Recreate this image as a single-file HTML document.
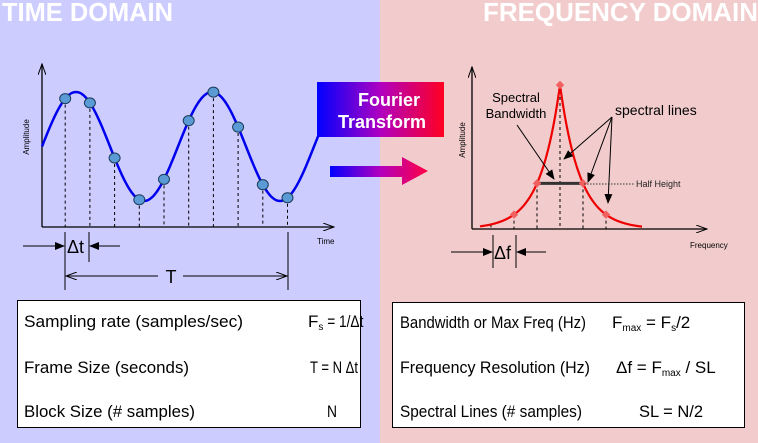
<!DOCTYPE html>
<html><head><meta charset="utf-8"><style>
html,body{margin:0;padding:0;width:758px;height:443px;overflow:hidden;background:#fff}
svg{display:block;font-family:"Liberation Sans",sans-serif}
</style></head><body>
<svg id="s" width="758" height="443" viewBox="0 0 758 443">
<defs>
<linearGradient id="g1" x1="0" x2="1" y1="0" y2="0"><stop offset="0" stop-color="#0000ff"/><stop offset="0.5" stop-color="#b000c0"/><stop offset="1" stop-color="#ff0022"/></linearGradient>
<linearGradient id="g2" x1="0" x2="1" y1="0" y2="0"><stop offset="0" stop-color="#0000ff"/><stop offset="0.5" stop-color="#b000c0"/><stop offset="1" stop-color="#ff0044"/></linearGradient>
<marker id="ah" markerWidth="10" markerHeight="8" refX="9" refY="4" orient="auto" markerUnits="userSpaceOnUse"><path d="M0,0 L10,4 L0,8 z" fill="#000"/></marker>
<marker id="ao" markerWidth="12" markerHeight="8" refX="11" refY="4" orient="auto" markerUnits="userSpaceOnUse"><path d="M0,0 L11,4 L0,8" fill="none" stroke="#000" stroke-width="1"/></marker>
</defs>
<rect x="0" y="0" width="380" height="443" fill="#ccccff"/>
<rect x="380" y="0" width="378" height="443" fill="#f2cccc"/>
<text x="2" y="21" font-size="26" font-weight="bold" fill="#fff" textLength="171" lengthAdjust="spacingAndGlyphs">TIME DOMAIN</text>
<text x="483" y="21" font-size="26" font-weight="bold" fill="#fff" textLength="275" lengthAdjust="spacingAndGlyphs">FREQUENCY DOMAIN</text>

<g id="time">
<line x1="42" y1="227" x2="42" y2="64" stroke="#000" stroke-width="1.3" marker-end="url(#ao)"/>
<line x1="42" y1="227" x2="334" y2="227" stroke="#000" stroke-width="1.3" marker-end="url(#ao)"/>
<text x="29" y="137" font-size="8" transform="rotate(-90 29 137)" text-anchor="middle">Amplitude</text>
<text x="317" y="244" font-size="8">Time</text>
</g>

<g>
<line x1="65" y1="232" x2="65" y2="290" stroke="#000"/>
<line x1="89" y1="232" x2="89" y2="262" stroke="#000"/>
<line x1="288" y1="232" x2="288" y2="290" stroke="#000"/>
<line x1="23" y1="246" x2="64" y2="246" stroke="#000" marker-end="url(#ah)"/>
<line x1="120" y1="246" x2="90" y2="246" stroke="#000" marker-end="url(#ah)"/>
<text x="67" y="253" font-size="18">Δt</text>
<line x1="158" y1="276" x2="66" y2="276" stroke="#000" marker-end="url(#ao)"/>
<line x1="183" y1="276" x2="287" y2="276" stroke="#000" marker-end="url(#ao)"/>
<text x="171" y="283" font-size="18" text-anchor="middle">T</text>
</g>

<g>
<rect x="317" y="82" width="127" height="55" fill="url(#g1)"/>
<text x="389" y="106" font-size="18" font-weight="bold" fill="#fff" text-anchor="middle">Fourier</text>
<text x="382" y="128" font-size="18" font-weight="bold" fill="#fff" text-anchor="middle">Transform</text>
<path d="M330,166 L402,166 L402,157 L428,171 L402,185 L402,177 L330,177 Z" fill="url(#g2)"/>
</g>

<g id="freq">
<line x1="472" y1="229" x2="472" y2="67" stroke="#000" stroke-width="1.3" marker-end="url(#ao)"/>
<line x1="472" y1="229" x2="707" y2="229" stroke="#000" stroke-width="1.3" marker-end="url(#ao)"/>
<text x="465" y="140" font-size="8" transform="rotate(-90 465 140)" text-anchor="middle">Amplitude</text>
<text x="690" y="248" font-size="8">Frequency</text>
</g>

<g>
<line x1="493" y1="235" x2="493" y2="268" stroke="#000"/>
<line x1="516" y1="235" x2="516" y2="268" stroke="#000"/>
<line x1="451" y1="252" x2="492" y2="252" stroke="#000" marker-end="url(#ah)"/>
<line x1="546" y1="252" x2="517" y2="252" stroke="#000" marker-end="url(#ah)"/>
<text x="494" y="259" font-size="18">Δf</text>
<line x1="584" y1="184" x2="634" y2="184" stroke="#333" stroke-dasharray="1.5,1.5"/>
<text x="636" y="187" font-size="9" fill="#222">Half Height</text>
<text x="516" y="102" font-size="13" text-anchor="middle">Spectral</text>
<text x="516" y="118" font-size="13" text-anchor="middle">Bandwidth</text>
<line x1="517" y1="125" x2="554" y2="179" stroke="#000" marker-end="url(#ah)"/>
<text x="615" y="115" font-size="14">spectral lines</text>
<line x1="612" y1="117" x2="564" y2="159" stroke="#000" marker-end="url(#ah)"/>
<line x1="612" y1="117" x2="588" y2="182" stroke="#000" marker-end="url(#ah)"/>
<line x1="612" y1="117" x2="608" y2="203" stroke="#000" marker-end="url(#ah)"/>
</g>

<g>
<rect x="17.5" y="300.5" width="343" height="127" fill="#fff" stroke="#000"/>
<text x="24" y="327" font-size="17" textLength="219" lengthAdjust="spacingAndGlyphs">Sampling rate (samples/sec)</text>
<text x="308" y="327" font-size="17">F<tspan font-size="10" dy="3">s</tspan><tspan dy="-3" textLength="40" lengthAdjust="spacingAndGlyphs"> = 1/Δt</tspan></text>
<text x="24" y="373" font-size="17" textLength="165" lengthAdjust="spacingAndGlyphs">Frame Size (seconds)</text>
<text x="310" y="373" font-size="17" textLength="48" lengthAdjust="spacingAndGlyphs">T = N Δt</text>
<text x="24" y="417" font-size="17" textLength="171" lengthAdjust="spacingAndGlyphs">Block Size (# samples)</text>
<text x="327" y="417" font-size="17" textLength="10" lengthAdjust="spacingAndGlyphs">N</text>
</g>
<g>
<rect x="392.5" y="302.5" width="352" height="125" fill="#fff" stroke="#000"/>
<text x="400" y="328" font-size="17" textLength="186" lengthAdjust="spacingAndGlyphs">Bandwidth or Max Freq (Hz)</text>
<text x="612" y="328" font-size="17">F<tspan font-size="10" dy="3">max</tspan><tspan dy="-3"> = F</tspan><tspan font-size="10" dy="3">s</tspan><tspan dy="-3">/2</tspan></text>
<text x="400" y="373" font-size="17" textLength="190" lengthAdjust="spacingAndGlyphs">Frequency Resolution (Hz)</text>
<text x="616" y="373" font-size="17">Δf = F<tspan font-size="10" dy="3">max</tspan><tspan dy="-3"> / SL</tspan></text>
<text x="400" y="417" font-size="17" textLength="182" lengthAdjust="spacingAndGlyphs">Spectral Lines (# samples)</text>
<text x="639" y="417" font-size="17" textLength="64" lengthAdjust="spacingAndGlyphs">SL = N/2</text>
</g>
</svg>
<script>
// Time-domain signal data
const sampleIndex = [1,2,3,4,5,6,7,8,9,10];
const sigPeriod = 136;      // px per cycle
const sigAmp = 54.5;
// Frequency-domain data
const lineIndex = [-3,-2,-1,0,1,2];
const peakHeight = 144;
const decay = 20;

const NS='http://www.w3.org/2000/svg';
const tg=document.getElementById('time'), fg=document.getElementById('freq');
function tx(i){return 40.5+i*24.7;}
function ty(x){return 146.5-sigAmp*Math.sin(2*Math.PI*(x-42)/sigPeriod);}
let d='';
for(let x=42;x<=322;x+=1)d+=(x===42?'M':'L')+x+','+ty(x).toFixed(1);
const p=document.createElementNS(NS,'path');


p.setAttribute('d',d);p.setAttribute('fill','none');p.setAttribute('stroke','#0000ee');p.setAttribute('stroke-width','2.5');
tg.appendChild(p);
sampleIndex.forEach(i=>{
 const x=tx(i),y=ty(x);
 const l=document.createElementNS(NS,'line');
 
 
 l.setAttribute('x1',x);l.setAttribute('x2',x);l.setAttribute('y1',y);l.setAttribute('y2',227);
 l.setAttribute('stroke','#000');l.setAttribute('stroke-dasharray','3,3');
 tg.appendChild(l);
});
sampleIndex.forEach(i=>{
 const x=tx(i),y=ty(x);
 const c=document.createElementNS(NS,'ellipse');
 
 
 c.setAttribute('cx',x);c.setAttribute('cy',y);c.setAttribute('rx',5.5);c.setAttribute('ry',5);
 c.setAttribute('fill','#5b9bd5');c.setAttribute('stroke','#1a3a5a');c.setAttribute('stroke-width','1');
 tg.appendChild(c);
});
function fx(k){return 560+k*23;}
function fy(x){return 229-peakHeight*Math.exp(-Math.abs(x-560)/decay);}
lineIndex.forEach(k=>{
 const x=fx(k);
 const l=document.createElementNS(NS,'line');
 
 
 l.setAttribute('x1',x);l.setAttribute('x2',x);l.setAttribute('y1',fy(x));l.setAttribute('y2',229);
 l.setAttribute('stroke','#000');l.setAttribute('stroke-dasharray','3,3');
 fg.appendChild(l);
});
let d2='';
for(let x=480;x<=642;x+=0.5)d2+=(x===480?'M':'L')+x+','+fy(x).toFixed(1);
const q=document.createElementNS(NS,'path');


q.setAttribute('d',d2);q.setAttribute('fill','none');q.setAttribute('stroke','#ee0000');q.setAttribute('stroke-width','2.2');
fg.appendChild(q);
const hb=document.createElementNS(NS,'line');


hb.setAttribute('x1',fx(-1));hb.setAttribute('x2',fx(1));hb.setAttribute('y1',fy(fx(1)));hb.setAttribute('y2',fy(fx(1)));
hb.setAttribute('stroke','#333');hb.setAttribute('stroke-width','3');
fg.appendChild(hb);
lineIndex.filter(k=>k>=-2).forEach(k=>{
 const x=fx(k),y=fy(x);
 const m=document.createElementNS(NS,'rect');
 
 
 m.setAttribute('x',x-3);m.setAttribute('y',y-3);m.setAttribute('width',6);m.setAttribute('height',6);
 m.setAttribute('transform','rotate(45 '+x+' '+y+')');m.setAttribute('fill','#f06060');
 fg.appendChild(m);
});
</script>
</body></html>
